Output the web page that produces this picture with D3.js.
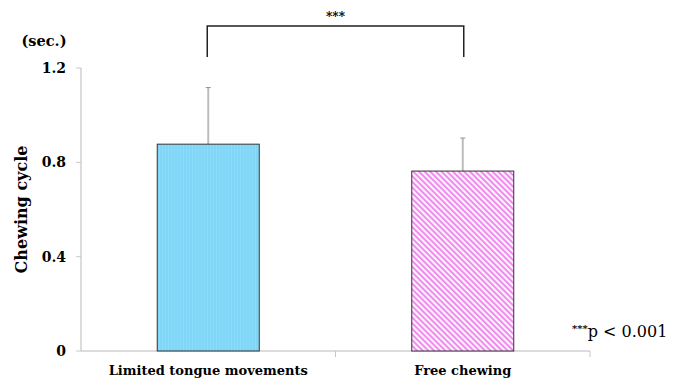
<!DOCTYPE html>
<html>
<head>
<meta charset="utf-8">
<script src="https://cdn.jsdelivr.net/npm/d3@7"></script>
<style>
  body { margin: 0; background: #fff; }
  svg { display: block; font-family: "DejaVu Serif", serif; font-weight: bold; }
</style>
</head>
<body>
<svg width="681" height="382"></svg>
<script>
// chart values
var categories = ["Limited tongue movements", "Free chewing"];
var means = [0.877, 0.763];
var sds = [0.24, 0.14];
var yTicks = [0, 0.4, 0.8, 1.2];

var svg = d3.select("svg"),
  plotLeft = 81,
  plotRight = 590,
  plotTop = 68,
  plotBottom = 351;

var x = d3.scaleBand().domain(categories).range([plotLeft, plotRight]);
var y = d3.scaleLinear().domain([0, 1.2]).range([plotBottom, plotTop]);

var defs = svg.append("defs");
var blue = defs.append("pattern")
  .attr("id", "blueFill")
  .attr("patternUnits", "userSpaceOnUse")
  .attr("width", 3).attr("height", 3);
blue.append("rect").attr("width", 3).attr("height", 3).attr("fill", "#7fd6f7");
blue.append("rect").attr("width", 1).attr("height", 3).attr("fill", "#8cdcf9");

var pink = defs.append("pattern")
  .attr("id", "pinkHatch")
  .attr("patternUnits", "userSpaceOnUse")
  .attr("width", 4).attr("height", 4)
  .attr("patternTransform", "rotate(45)");
pink.append("rect").attr("width", 4).attr("height", 4).attr("fill", "#fff");
pink.append("rect").attr("width", 4).attr("height", 2.2).attr("fill", "#f08cf0");

// y axis line
svg.append("line")
  .attr("x1", plotLeft).attr("x2", plotLeft)
  .attr("y1", y(1.2)).attr("y2", y(0))
  .attr("stroke", "#d0d0d0").attr("stroke-width", 1.5);

// y ticks
var yt = svg.append("g").selectAll("g").data(yTicks).enter().append("g");
yt.append("line")
  .attr("x1", plotLeft - 5).attr("x2", plotLeft)
  .attr("y1", function (d) { return y(d); })
  .attr("y2", function (d) { return y(d); })
  .attr("stroke", "#c8c8c8");
yt.append("text")
  .attr("x", plotLeft - 15)
  .attr("y", function (d) { return y(d); })
  .attr("dy", "0.35em")
  .attr("text-anchor", "end")
  .attr("font-size", "14px")
  .text(function (d) { return d === 0 ? "0" : d.toFixed(1); });

// x axis line
svg.append("line")
  .attr("x1", plotLeft).attr("x2", plotRight)
  .attr("y1", plotBottom).attr("y2", plotBottom)
  .attr("stroke", "#d0d0d0").attr("stroke-width", 1.5);
svg.append("g").selectAll("line")
  .data(categories.slice(1).map(function (c) { return x(c); }).concat([plotRight]))
  .enter().append("line")
  .attr("x1", function (d) { return d; }).attr("x2", function (d) { return d; })
  .attr("y1", plotBottom).attr("y2", plotBottom + 6)
  .attr("stroke", "#c8c8c8");

// error bars (drawn before bars)
var barW = 102;
var err = svg.append("g").selectAll("g").data(categories).enter().append("g");
err.append("line")
  .attr("x1", function (d) { return x(d) + x.bandwidth() / 2; })
  .attr("x2", function (d) { return x(d) + x.bandwidth() / 2; })
  .attr("y1", function (d, i) { return y(means[i]); })
  .attr("y2", function (d, i) { return y(means[i] + sds[i]); })
  .attr("stroke", "#bcbcbc").attr("stroke-width", 2);
err.append("line")
  .attr("x1", function (d) { return x(d) + x.bandwidth() / 2 - 2.5; })
  .attr("x2", function (d) { return x(d) + x.bandwidth() / 2 + 2.5; })
  .attr("y1", function (d, i) { return y(means[i] + sds[i]); })
  .attr("y2", function (d, i) { return y(means[i] + sds[i]); })
  .attr("stroke", "#909090").attr("stroke-width", 1);

// bars
svg.append("g").selectAll("rect").data(categories).enter().append("rect")
  .attr("x", function (d) { return x(d) + x.bandwidth() / 2 - barW / 2; })
  .attr("y", function (d, i) { return y(means[i]); })
  .attr("width", barW)
  .attr("height", function (d, i) { return y(0) - y(means[i]); })
  .attr("fill", function (d, i) { return i === 0 ? "url(#blueFill)" : "url(#pinkHatch)"; })
  .attr("stroke", "#333").attr("stroke-width", 1);

// category labels
svg.append("g").selectAll("text").data(categories).enter().append("text")
  .attr("x", function (d) { return x(d) + x.bandwidth() / 2; })
  .attr("y", plotBottom + 24)
  .attr("text-anchor", "middle")
  .attr("font-size", "13px")
  .text(function (d) { return d; });

// y title
svg.append("text")
  .attr("transform", "translate(21," + y(0.6) + ")rotate(-90)")
  .attr("text-anchor", "middle")
  .attr("dy", "0.35em")
  .attr("font-size", "16px")
  .text("Chewing cycle");

svg.append("text")
  .attr("x", 44).attr("y", 46)
  .attr("text-anchor", "middle")
  .attr("font-size", "14.5px")
  .text("(sec.)");

// significance bracket
var c0 = x(categories[0]) + x.bandwidth() / 2,
  c1 = x(categories[1]) + x.bandwidth() / 2;
svg.append("path")
  .attr("d", "M" + (c0 - 1) + ",57V26H" + (c1 + 1) + "V57")
  .attr("fill", "none").attr("stroke", "#222").attr("stroke-width", 1.5);
svg.append("text")
  .attr("x", (c0 + c1) / 2).attr("y", 21)
  .attr("text-anchor", "middle")
  .attr("font-size", "12px")
  .text("***");

var pt = svg.append("text")
  .attr("x", 572).attr("y", 337)
  .attr("font-size", "16px");
pt.append("tspan").attr("font-size", "10px").attr("dy", "-5").text("***");
pt.append("tspan").attr("dy", "5").attr("font-weight", "normal").text("p < 0.001");
</script>
</body>
</html>
